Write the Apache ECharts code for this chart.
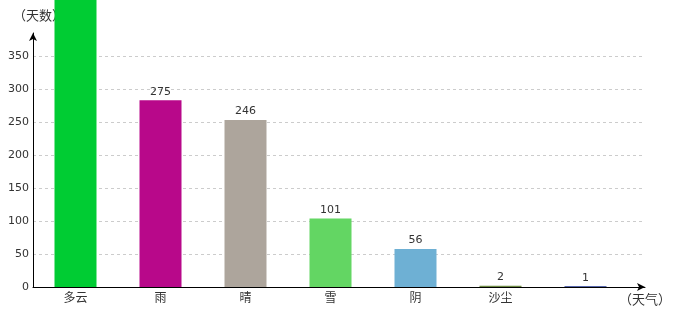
<!DOCTYPE html>
<html>
<head>
<meta charset="utf-8">
<script src="https://cdn.jsdelivr.net/npm/echarts@6/dist/echarts.min.js"></script>
<style>html,body{margin:0;padding:0;background:#fff}#c{width:680px;height:320px}</style>
</head>
<body>
<div id="c"></div>
<script>
var categories = ['多云', '雨', '晴', '雪', '阴', '沙尘', ''];
var days = [500, 275, 246, 101, 56, 2, 1];
var colors = ['#00CC33', '#B8088A', '#ADA59C', '#63D663', '#6EB0D4', '#6E8B45', '#1F3590'];
var yTickMax = 385;
var yTickStep = 50;

var chart = echarts.init(document.getElementById('c'), null, {renderer: 'canvas'});
var numFont = 'DejaVu Sans';
var cjkFont = 'Noto Sans CJK SC';
chart.setOption({
  animation: false,
  backgroundColor: '#fff',
  grid: [
    {left: 33, right: 35, top: 33, bottom: 33},
    {left: 33, right: 52, top: 33, bottom: 33}
  ],
  xAxis: [
    {
      gridIndex: 0, type: 'value', min: 0, max: 1,
      axisLine: {show: true, symbol: ['none', 'arrow'], symbolSize: [6, 8], lineStyle: {color: '#000', width: 1}},
      axisTick: {show: false}, axisLabel: {show: false}, splitLine: {show: false},
      name: '（天气）', nameLocation: 'end', nameGap: 0,
      nameTextStyle: {fontFamily: cjkFont, fontSize: 13, color: '#333', align: 'center', verticalAlign: 'top', padding: [6, 0, 0, 0]}
    },
    {
      gridIndex: 1, type: 'category', data: categories,
      axisLine: {show: false}, axisTick: {show: false},
      axisLabel: {fontFamily: cjkFont, fontSize: 12, color: '#333', margin: 4, interval: 0}
    }
  ],
  yAxis: [
    {
      gridIndex: 0, type: 'value', min: 0, max: yTickMax, interval: yTickStep,
      axisLine: {show: true, symbol: ['none', 'arrow'], symbolSize: [6, 8], lineStyle: {color: '#000', width: 1}},
      axisTick: {show: false},
      axisLabel: {fontFamily: numFont, fontSize: 11, color: '#333', margin: 4, showMaxLabel: false},
      splitLine: {show: true, showMaxLine: false, lineStyle: {color: '#ccc', type: [3, 3]}},
      name: '（天数）', nameLocation: 'end', nameGap: 11,
      nameTextStyle: {fontFamily: cjkFont, fontSize: 13, color: '#333', align: 'center', padding: [0, 0, 0, 12]}
    },
    {
      gridIndex: 1, type: 'value', min: 0, max: 374, show: false,
      splitLine: {show: false}
    }
  ],
  series: [{
    type: 'bar', xAxisIndex: 1, yAxisIndex: 1, barWidth: 42, clip: false,
    data: days.map(function (v, i) { return {value: v, itemStyle: {color: colors[i]}}; }),
    label: {show: true, position: 'top', distance: 3, fontFamily: numFont, fontSize: 11, color: '#333'}
  }]
});
</script>
</body>
</html>
